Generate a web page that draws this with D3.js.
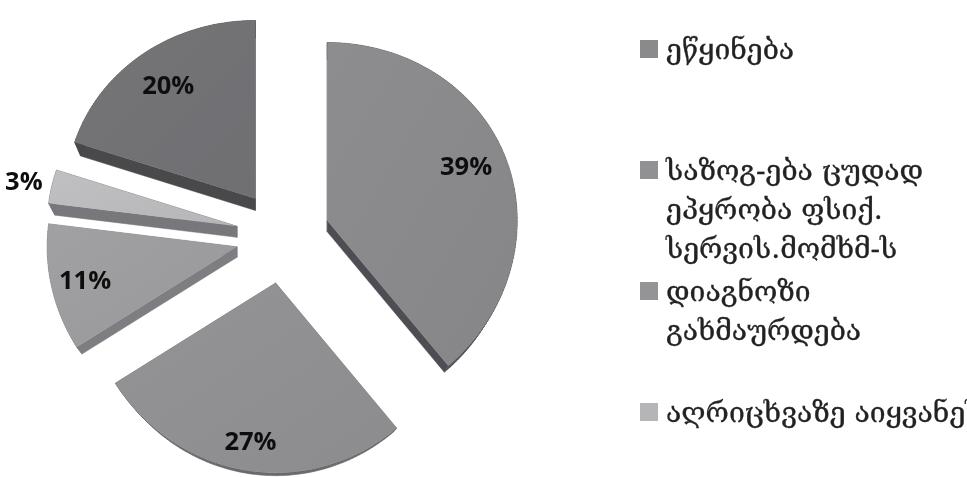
<!DOCTYPE html>
<html>
<head>
<meta charset="utf-8">
<script src="https://cdn.jsdelivr.net/npm/d3@7/dist/d3.min.js"></script>
<style>
  html, body { margin: 0; padding: 0; background: #fff; overflow: hidden; }
  svg { display: block; }
</style>
</head>
<body>
<div id="chart"></div>
<script>
// slices, clockwise from 12 o'clock
var sliceValues = [39, 27, 11, 3, 20];
var sliceColors = ["#88888b", "#8f8f92", "#9b9b9d", "#b9b9bb", "#717174"];
var sideColors = ["#4e4e52", "#68686c", "#7e7e82", "#77777b", "#48484c"];

// legend only lists four entries in the original
var legendLabels = [
  ["ეწყინება"],
  ["საზოგ-ება ცუდად", "ეპყრობა ფსიქ.", "სერვის.მომხმ-ს"],
  ["დიაგნოზი", "გახმაურდება"],
  ["აღრიცხვაზე აიყვანეს"]
];
var legendColors = ["#8a8a8d", "#919194", "#949496", "#b5b5b7"];

var svgWidth = 967;
var svgHeight = 477;

var centerX = 283;
var centerY = 236.5;
var radius = 190;
var explode = 47;

// the underside shrinks toward this height
var vanishY = 562;
var thickness = 0.033;

var svg = d3.select("#chart")
  .append("svg")
  .attr("width", svgWidth)
  .attr("height", svgHeight);

var defs = svg.append("defs");
defs.append("filter")
  .attr("id", "soft")
  .attr("x", "-5%").attr("y", "-5%")
  .attr("width", "110%").attr("height", "110%")
  .append("feGaussianBlur")
  .attr("stdDeviation", 0.6);

sliceColors.forEach(function(c, i) {
  var grad = defs.append("linearGradient")
    .attr("id", "top" + i)
    .attr("x1", 0).attr("y1", 0).attr("x2", 1).attr("y2", 1);
  grad.append("stop").attr("offset", 0).attr("stop-color", d3.color(c).brighter(0.1));
  grad.append("stop").attr("offset", 1).attr("stop-color", d3.color(c).darker(0.05));
});

var pie = d3.pie().sort(null);
var arcs = pie(sliceValues);

// the far side of the disc is a little flatter than the near side
function squash(wy) {
  return wy * (0.968 + 0.031 * wy / radius);
}

function apex(d) {
  var mid = (d.startAngle + d.endAngle) / 2;
  return [centerX + explode * Math.sin(mid), centerY - explode * Math.cos(mid)];
}

function under(d, p) {
  return [p[0] + (apex(d)[0] - p[0]) * thickness, p[1] + (vanishY - p[1]) * thickness];
}

function project(d, angle, r) {
  var a = apex(d);
  return [a[0] + r * Math.sin(angle), a[1] + squash(-r * Math.cos(angle))];
}

function outline(d) {
  var n = Math.ceil((d.endAngle - d.startAngle) / 0.02);
  var pts = [apex(d)];
  d3.range(n + 1).forEach(function(i) {
    pts.push(project(d, d.startAngle + (d.endAngle - d.startAngle) * i / n, radius));
  });
  pts.push(apex(d));
  return pts;
}

var line = d3.line();
var chartGroup = svg.append("g").attr("filter", "url(#soft)");

arcs.forEach(function(d, i) {
  var pts = outline(d);
  var side = chartGroup.append("g")
    .attr("fill", sideColors[i])
    .attr("stroke", sideColors[i])
    .attr("stroke-width", 0.5);
  d3.pairs(pts).forEach(function(seg) {
    var p = seg[0], q = seg[1];
    side.append("path").attr("d", line([p, q, under(d, q), under(d, p)]) + "Z");
  });
  chartGroup.append("path")
    .attr("d", line(pts) + "Z")
    .attr("fill", "url(#top" + i + ")");
});

// percent labels, the 3% sits outside its slice
var labelRadius = [0.79, 0.845, 0.82, 1.15, 0.78];
var labelNudge = [-0.044, 0, 0, 0, 0];

function labelPos(d, i) {
  return project(d, (d.startAngle + d.endAngle) / 2 + labelNudge[i], radius * labelRadius[i]);
}

chartGroup.selectAll(".pct")
  .data(arcs)
  .enter()
  .append("text")
  .attr("class", "pct")
  .attr("x", (d, i) => labelPos(d, i)[0])
  .attr("y", (d, i) => labelPos(d, i)[1])
  .attr("dy", "0.36em")
  .attr("text-anchor", "middle")
  .attr("font-family", "'Open Sans', sans-serif")
  .attr("font-weight", "bold")
  .attr("font-size", "25.5px")
  .attr("fill", "#111")
  .text(d => d.value + "%");

// legend
var legendY = d3.scaleLinear().domain([0, 3]).range([40, 403]);
var legendGroup = svg.append("g").attr("filter", "url(#soft)");
var rows = legendGroup.selectAll(".row")
  .data(legendLabels)
  .enter()
  .append("g")
  .attr("class", "row")
  .attr("transform", (d, i) => `translate(640, ${legendY(i)})`);

rows.append("rect")
  .attr("width", 18)
  .attr("height", 18)
  .attr("fill", (d, i) => legendColors[i]);

rows.selectAll("text")
  .data(d => d)
  .enter()
  .append("text")
  .attr("x", 26)
  .attr("y", (d, i) => 19 + i * 39.2)
  .attr("font-family", "'DejaVu Serif', 'DejaVu Sans', serif")
  .attr("font-size", "28.3px")
  .attr("fill", "#222")
  .attr("stroke", "#222")
  .attr("stroke-width", 0.3)
  .text(d => d);
</script>
</body>
</html>
